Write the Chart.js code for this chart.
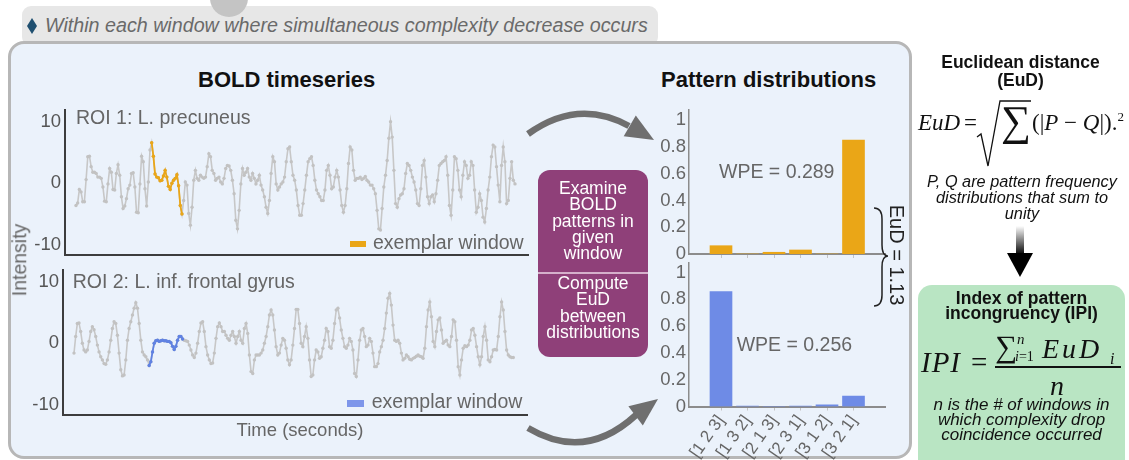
<!DOCTYPE html>
<html>
<head>
<meta charset="utf-8">
<title>Index of pattern incongruency</title>
<script src="https://cdn.jsdelivr.net/npm/chart.js"></script>
<style>
  html, body { margin: 0; padding: 0; overflow: hidden; background: #fff; }
  body { width: 1129px; height: 460px; position: relative; font-family: "Liberation Sans", Arial, Helvetica, sans-serif; color: #222; }
  .a { position: absolute; white-space: nowrap; }
  .m { position: absolute; white-space: nowrap; font-family: "Liberation Serif", "Times New Roman", serif; line-height: 1; color: #111; }
  .m i, i.m { font-style: italic; }
  canvas { position: absolute; }
  #topbox { left: 22px; top: 6px; width: 636px; height: 40px; background: #e7e7e7; border-radius: 9px; }
  #circle { left: 210px; top: -21px; width: 38px; height: 38px; border-radius: 50%; background: #c4c4c4; }
  #diamond { left: 27px; top: 18px; width: 10px; height: 16px; background: #1f4f70; clip-path: polygon(50% 0, 100% 50%, 50% 100%, 0 50%); }
  #toptext { left: 45px; top: 16.3px; font-size: 19.7px; line-height: 19.7px; font-style: italic; color: #6a6a6a; }
  #panel { left: 8px; top: 41px; width: 898px; height: 412px; background: #ebf2fb; border: 3px solid #b7b7b7; border-radius: 16px; }
  .title { font-weight: bold; font-size: 22px; line-height: 22px; color: #111; }
  .lbl { font-size: 19.5px; line-height: 19.5px; color: #666; }
  #purple { left: 538px; top: 170px; width: 110px; height: 187px; background: #8f4079; border-radius: 12px; color: #fff; text-align: center; font-size: 17.5px; line-height: 16.3px; }
  #purple div { position: absolute; left: 0; right: 0; }
  .head { font-weight: bold; font-size: 17.5px; text-align: center; color: #111; }
  .note { font-style: italic; text-align: center; color: #111; }
  #green { left: 918px; top: 285px; width: 207px; height: 200px; background: #b9e5c3; border-radius: 14px; }
</style>
</head>
<body>

<div id="topbox" class="a"></div>
<div id="circle" class="a"></div>
<div id="diamond" class="a"></div>
<div id="toptext" class="a">Within each window where simultaneous complexity decrease occurs</div>

<div id="panel" class="a"></div>

<div class="a title" style="left:198px;top:69.4px;">BOLD timeseries</div>
<div class="a title" style="left:661px;top:69.4px;">Pattern distributions</div>

<canvas id="roi1Chart" width="535" height="165" style="left:0;top:100px;"></canvas>
<canvas id="roi2Chart" width="535" height="155" style="left:0;top:265px;"></canvas>
<canvas id="freq1Chart" width="260" height="160" style="left:640px;top:100px;"></canvas>
<canvas id="freq2Chart" width="260" height="240" style="left:640px;top:255px;"></canvas>

<div class="a lbl" style="left:76px;top:107.8px;">ROI 1: L. precuneus</div>
<div class="a" style="left:350px;top:240.7px;width:16px;height:6px;background:#eaa617;"></div>
<div class="a lbl" style="left:373px;top:232.8px;">exemplar window</div>

<div class="a lbl" style="left:72.7px;top:271.8px;">ROI 2: L. inf. frontal gyrus</div>
<div class="a" style="left:347px;top:400px;width:17px;height:6.5px;background:#7e96ea;"></div>
<div class="a lbl" style="left:371.7px;top:391.8px;">exemplar window</div>

<div class="a lbl" style="left:200px;width:200px;text-align:center;top:421px;font-size:18.5px;line-height:18.5px;">Time (seconds)</div>
<div class="a lbl" style="left:20px;top:260px;transform:translate(-50%,-50%) rotate(-90deg);">Intensity</div>

<div class="a lbl" style="left:719px;top:161.8px;">WPE = 0.289</div>
<div class="a lbl" style="left:736.7px;top:335.2px;">WPE = 0.256</div>

<div id="purple" class="a">
  <div style="top:10px;">Examine<br>BOLD<br>patterns in<br>given<br>window</div>
  <div style="top:102px;height:2px;background:#d5b0cb;"></div>
  <div style="top:105px;">Compute<br>EuD<br>between<br>distributions</div>
</div>

<div class="a" style="left:897px;top:255px;font-size:20px;line-height:20px;color:#222;transform:translate(-50%,-50%) rotate(90deg);">EuD = 1.13</div>

<svg class="a" style="left:0;top:0;" width="1129" height="460">
  <defs>
    <linearGradient id="fade" x1="0" y1="0" x2="0" y2="1">
      <stop offset="0" stop-color="#ffffff"/>
      <stop offset="1" stop-color="#000000"/>
    </linearGradient>
  </defs>
  <path d="M528,134 Q578,98 629,126" fill="none" stroke="#6f6f6f" stroke-width="6.5"/>
  <polygon points="654,140 623.7,136.3 635.8,115.5" fill="#6f6f6f"/>
  <path d="M528,428 Q585,462 636,415" fill="none" stroke="#6f6f6f" stroke-width="6.5"/>
  <polygon points="658,399 642.8,425.4 628.4,406.2" fill="#6f6f6f"/>
  <path d="M874,208 Q882,208 882,219 L882,245 Q882,256 888,256 Q882,256 882,267 L882,295 Q882,306 874,306" fill="none" stroke="#222" stroke-width="1.5"/>
  <rect x="1016" y="226" width="8" height="29" fill="url(#fade)"/>
  <polygon points="1007,253 1033,253 1020,277" fill="#000"/>
  <path d="M977,137 L981,134 L988,166 L1000,101 L1031,101" fill="none" stroke="#111" stroke-width="1.3"/>
</svg>

<div class="a head" style="left:918px;width:205px;top:53px;line-height:18.4px;">Euclidean distance<br>(EuD)</div>
<i class="m" style="left:918px;top:110.7px;font-size:23px;">EuD</i>
<span class="m" style="left:964px;top:110.7px;font-size:23px;">=</span>
<span class="m" style="left:1001px;top:100px;font-size:42px;">&#8721;</span>
<span class="m" style="left:1032px;top:111px;font-size:23px;">(|<i>P</i> &minus; <i>Q</i>|).<sup style="font-size:13px;line-height:0;vertical-align:9px;">2</sup></span>
<div class="a note" style="left:920px;width:204px;top:173px;font-size:16.3px;line-height:16px;">P, Q are pattern frequency<br>distributions that sum to<br>unity</div>

<div id="green" class="a"></div>
<div class="a head" style="left:918px;width:207px;top:291.4px;line-height:15px;">Index of pattern<br>incongruency (IPI)</div>
<i class="m" style="left:921px;top:348px;font-size:29px;letter-spacing:1px;">IPI</i>
<span class="m" style="left:971px;top:348px;font-size:29px;">=</span>
<span class="m" style="left:995px;top:331px;font-size:31px;">&#8721;</span>
<i class="m" style="left:1017px;top:332px;font-size:15px;">n</i>
<span class="m" style="left:1015px;top:350px;font-size:14px;"><i>i</i>=1</span>
<i class="m" style="left:1042px;top:335px;font-size:28px;letter-spacing:3px;">EuD</i>
<i class="m" style="left:1110px;top:351px;font-size:16px;">i</i>
<div class="a" style="left:995px;top:366px;width:126px;height:1.5px;background:#111;"></div>
<i class="m" style="left:1050px;top:372px;font-size:28px;">n</i>
<div class="a note" style="left:918px;width:207px;top:396.5px;font-size:17px;line-height:15.3px;">n is the # of windows in<br>which complexity drop<br>coincidence occurred</div>

<script>
  // BOLD intensity (evenly spaced samples)
  const roi1 = [
    -3.6, -3.2, -1.0, -1.4, -3.0, -3.0, 0.6, 4.3, 4.4, 2.7, 1.8, 1.8, 1.6, 1.0, 1.0, 0.8, -0.6, -2.9, -3.0, -0.1,
    2.4, 1.8, -1.0, -1.1, 1.6, 3.0, 1.3, -2.2, -4.1, -3.7, -2.5, -0.9, -0.3, 1.6, 1.7, -0.6, -4.7, -4.8, -0.1, 4.4,
    3.5, -0.9, -3.7, 0.2, 5.4,
    6.6, 4.4, 1.5, 1.0, 0.9, 0.4, 0.5, 1.2, 2.1, 1.0, -0.5, -1.0, 0.0, 0.5, 0.8, 1.4, -0.4, -3.6, -5.0,
    -2.8, 0.2, -0.3, -4.9, -6.8, -3.9, 0.5, 2.1, 0.8, 0.5, 1.3, 1.0, 0.8, 1.0, 2.7, 4.8, 4.3, 2.1, 1.6, 0.5,
    0.8, 1.0, 0.2, -0.1, 0.8, 2.4, 2.9, 2.8, 2.1, 0.5, -1.7, -6.0, -7.4, -4.4, -0.1, 2.4, 1.3, 1.8, 2.4, 1.0,
    0.5, 1.6, 0.8, -0.1, 0.5, 1.3, -0.3, -1.1, -2.2, -3.9,
    -4.9, -2.8, 1.6, 4.3, 3.5, -0.1, -1.1, -0.6, -0.1, 0.2, 1.0, 3.5, 5.6, 5.9, 3.5, 1.3, 0.5, -1.1, -3.6, -5.2,
    -5.2, -3.3, -1.1, 1.3, 3.5, 4.0, 4.3, 2.9, 0.5, -1.1, -1.7, -2.2, -2.8, -2.8, -1.1, 2.1, 2.9, 1.3, -0.9, -0.6,
    1.0, 2.1, 1.0, -1.1, -3.6, -4.7, -3.6, -0.9, 3.2, 5.9, 5.4, 2.1, 0.5, 0.8, 0.8, 1.0, 0.6, 0.8, 1.1, 0.5,
    0.2, -0.3, -0.3, -0.9, -1.7, -4.4, -7.4, -7.6, -4.1, -0.6, 1.3, 3.7, 7.3, 10.0, 7.5, 2.1, -3.3, -3.9, -2.5, -1.9,
    -1.7, -0.9, 1.6, 3.2, 2.9, 2.1, 1.0, 0.2, -1.1, -3.3, -3.6, -0.9, 2.9, 3.7, 1.0, -2.2, -3.3, -2.2, -1.9, -3.0,
    -1.7, 0.5, 2.9, 3.2, 3.5, 3.7, 4.3, 1.3, -3.6, -5.2, -1.1, 4.3, 4.0, 2.1, -1.1, -2.2, 1.3, 3.5, 2.9, 0.8,
    1.3, 3.5, 2.9, -1.1, -4.7, -3.9, -1.7, -2.8, -5.5, -6.3, -4.1, -1.1, 1.0, 4.3, 6.2, 5.9, 2.7, -0.3, -3.0, 2.9,
    5.9, 3.5, -3.3, -2.8, 0.8, 3.5, 0.5, -0.1
  ];
  const roi1Window = [45, 63];

  const roi2 = [
    -1.6, 1.1, 3.2, 3.3, 1.9, 0.0, -1.1, -1.4, -1.1, 0.3, 1.9, 2.7, 2.2, 1.1, -0.3, -1.4, -2.2, -2.7, -3.3, -3.4,
    -2.7, -1.4, 0.5, 2.4, 3.5, 3.2, 1.3, -1.6, -4.3, -5.3, -5.15, -2.7, 0.5, 2.4, 3.5, 4.6, 5.7, 6.6, 5.7, 3.2,
    0.5, -1.4, -1.9, -2.2, -2.7,
    -3.6, -3.0, -1.4, 0.0, 0.4, 0.5, 0.3, 0.4, 0.5, 0.4, 0.4, 0.3, 0.3, 0.1, -0.5, -1.0, -0.5, 0.5, 1.1, 1.1, 0.7,
    0.5, 0.4, 0.3, -0.3, -1.1, -1.9, -2.3, -1.6, 0.0, 1.9, 3.3, 3.5, 1.9, -0.55, -1.9, -2.7, -3.3, -3.2, -1.6, 0.8,
    2.7, 3.3, 2.7, 1.9, 1.9, 1.3, 0.8, 0.5, 1.3, 1.9, 1.1, 0.0, 1.1, 1.9, 0.5, 0.0, 2.4, 3.2, 1.6, -1.9,
    -4.6, -4.9, -2.7, -1.9, -1.9, -1.9, -1.6, -1.1, 0.0, 1.1, 2.7, 4.6,
    5.4, 4.6, 2.15, -0.55, -1.9, -1.6, -0.3, 0.8, 0.5, -0.8, -2.7, -3.5, -2.7, -0.3, 2.4, 5.5, 5.5, 3.2, 0.0, -0.55,
    1.1, 2.7, 0.8, -2.7, -5.4, -5.15, -2.7, -1.1, -1.4, -2.45, -2.2, -0.8, 0.5, 2.4, 1.9, -0.55, -0.8, 0.5, 3.2, 5.4,
    5.7, 4.1, 2.15, 0.8, -0.55, -0.8, -0.3, 0.8, 0.3, -1.1, -4.9, -5.4, -2.7, 0.5, 2.15, 2.4, 1.1, -0.55, -0.3, 0.8,
    0.3, -1.6, -3.8, -3.8, -3.3, -1.4, -0.55, 0.5, 2.4, 4.9, 7.3, 8.1, 6.2, 2.95, 0.5, 0.3, 0.5, 0.0, -1.6, -2.7,
    -2.45, -1.9, -2.2, -2.6, -2.7, -2.45, -2.3, -2.1, -1.9, -2.1, -2.2, -2.45, -0.8, 2.7, 5.4, 6.7, 4.3, 0.3, -0.55, 1.9,
    3.8, 4.1, 2.15, 0.0, 0.3, 0.5, -0.3, -0.55, 1.1, 3.8, 3.5, 0.5, -3.8, -5.15, -2.7, -0.8, -0.4, -0.55, -0.3, 0.5,
    2.15, 2.4, 1.3, -0.55, -2.2, -3.5, -2.2, 1.1, 2.7, 0.5, -2.7, -3.0, -2.2, -1.1, -1.0, -1.1, 1.1, 4.3, 6.7, 5.4,
    1.9, -1.1, -1.9, -2.2, -2.3, -2.3
  ];
  const roi2Window = [45, 65];
  const intensityTicks = [-10, 0, 10];

  // ordinal pattern frequencies in the exemplar window
  const patterns = ['[1 2 3]', '[1 3 2]', '[2 1 3]', '[2 3 1]', '[3 1 2]', '[3 2 1]'];
  const roi1Freq = [0.062, 0, 0.013, 0.03, 0, 0.85];
  const roi2Freq = [0.857, 0.004, 0.002, 0.004, 0.012, 0.078];
  const freqTicks = [0, 0.2, 0.4, 0.6, 0.8, 1];

  Chart.defaults.font.family = '"Liberation Sans", Arial, sans-serif';

  // keep the plot area exactly where the layout puts it (no label overhang padding)
  function noPad(s) {
    s.paddingTop = 0; s.paddingBottom = 0; s.paddingLeft = 0; s.paddingRight = 0;
  }

  function timeChart(id, values, win, color, box) {
    const step = (box.lastX - box.firstX) / (values.length - 1);
    const all = values.map((v, i) => ({ x: i, y: v }));
    const part = values.slice(win[0], win[1] + 1).map((v, k) => ({ x: win[0] + k, y: v }));
    return new Chart(document.getElementById(id), {
      type: 'line',
      data: {
        datasets: [
          { data: part, borderColor: color, backgroundColor: color, borderWidth: 1.8, pointRadius: 1.7, pointBorderWidth: 0, order: 0 },
          { data: all, borderColor: '#c7c7c7', backgroundColor: '#c2c2c2', borderWidth: 1.6, pointRadius: 1.7, pointBorderWidth: 0, order: 1 }
        ]
      },
      options: {
        responsive: false,
        animation: false,
        layout: { padding: { left: 0, top: box.padTop, right: box.padRight, bottom: box.padBottom } },
        plugins: { legend: { display: false }, tooltip: { enabled: false } },
        scales: {
          x: {
            type: 'linear',
            min: -(box.firstX - box.axisLeft) / step,
            max: values.length - 1 + (box.axisRight - box.lastX) / step,
            ticks: { display: false },
            grid: { display: false, drawTicks: false },
            border: { color: '#3d3d3d', width: 2 },
            afterFit: s => { s.height = 0; noPad(s); }
          },
          y: {
            min: -11.65,
            max: 11.9,
            afterBuildTicks: s => { s.ticks = intensityTicks.map(v => ({ value: v })); },
            ticks: { color: '#555', font: { size: 18.5 }, padding: 4 },
            grid: { display: false, drawTicks: false },
            border: { color: '#3d3d3d', width: 2 },
            afterFit: s => { s.width = box.axisLeft; noPad(s); }
          }
        }
      }
    });
  }

  function freqChart(id, freq, color, showLabels, box) {
    const step = (box.lastCenter - box.firstCenter) / (freq.length - 1);
    return new Chart(document.getElementById(id), {
      type: 'bar',
      data: {
        datasets: [{ data: freq.map((v, i) => ({ x: i + 1, y: v })), backgroundColor: color, barThickness: 22 }]
      },
      options: {
        responsive: false,
        animation: false,
        layout: { padding: { left: 0, top: box.padTop, right: box.padRight, bottom: 0 } },
        plugins: { legend: { display: false }, tooltip: { enabled: false } },
        scales: {
          x: {
            type: 'linear',
            offset: false,
            min: 1 - (box.firstCenter - box.axisLeft) / step,
            max: freq.length + (box.axisRight - box.lastCenter) / step,
            afterBuildTicks: s => { s.ticks = patterns.map((p, i) => ({ value: i + 1 })); },
            ticks: {
              display: showLabels,
              autoSkip: false,
              minRotation: 55,
              maxRotation: 55,
              padding: 1,
              color: '#666',
              font: { size: 17 },
              callback: (v, i) => patterns[i]
            },
            grid: { display: true, offset: false, drawOnChartArea: false, drawTicks: true, tickLength: 4, color: '#c4c4c4' },
            border: { color: '#8c8c8c', width: 2 },
            afterFit: s => { s.height = box.xHeight; noPad(s); }
          },
          y: {
            min: 0,
            max: box.yMax,
            afterBuildTicks: s => { s.ticks = freqTicks.map(v => ({ value: v })); },
            ticks: { color: '#666', font: { size: 18.5 }, padding: 3, callback: v => String(v) },
            grid: { display: false, drawTicks: false },
            border: { color: '#8c8c8c', width: 1.5 },
            afterFit: s => { s.width = 49; noPad(s); }
          }
        }
      }
    });
  }

  timeChart('roi1Chart', roi1, roi1Window, '#eaa617',
    { axisLeft: 65, axisRight: 528, firstX: 76, lastX: 515, padTop: 10, padBottom: 10, padRight: 7 });
  timeChart('roi2Chart', roi2, roi2Window, '#6082e2',
    { axisLeft: 63, axisRight: 527, firstX: 74, lastX: 513.3, padTop: 5, padBottom: 5, padRight: 8 });

  freqChart('freq1Chart', roi1Freq, '#eaa617', false,
    { axisLeft: 49, axisRight: 245, firstCenter: 81, lastCenter: 213.5, padTop: 10, padRight: 15, xHeight: 6, yMax: 1.075 });
  freqChart('freq2Chart', roi2Freq, '#6e8be6', true,
    { axisLeft: 49, axisRight: 245, firstCenter: 81, lastCenter: 213.5, padTop: 8, padRight: 15, xHeight: 88.5, yMax: 1.071 });
</script>
</body>
</html>
